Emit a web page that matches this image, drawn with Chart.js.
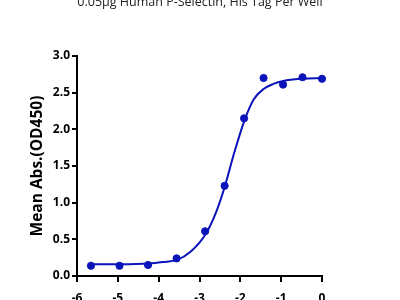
<!DOCTYPE html>
<html>
<head>
<meta charset="utf-8">
<script src="https://cdn.jsdelivr.net/npm/chart.js"></script>
<style>
    body { margin: 0; background: #fff; }
    #wrap { position: relative; width: 400px; height: 300px; overflow: hidden; }
    #inner { position: absolute; left: 0; top: -10px; width: 400px; height: 320px; }
</style>
</head>
<body>
<div id="wrap"><div id="inner"><canvas id="myChart"></canvas></div></div>
<script>
// measured points: log concentration vs mean absorbance
const logConc = [-5.658, -4.959, -4.260, -3.561, -2.862, -2.385, -1.908, -1.431, -0.954, -0.477, 0];
const meanAbs = [0.14, 0.14, 0.15, 0.24, 0.61, 1.23, 2.15, 2.70, 2.61, 2.71, 2.69];

// fitted curve
const fitX = [-5.66, -4.95, -4.24, -3.9, -3.55, -3.22, -2.84, -2.6, -2.38, -2.15, -1.9, -1.67, -1.43, -1.19, -0.95, -0.48, 0];
const fitY = [0.16, 0.16, 0.17, 0.19, 0.22, 0.33, 0.58, 0.86, 1.22, 1.68, 2.12, 2.41, 2.55, 2.62, 2.66, 2.69, 2.70];

const xTicks = [-6, -5, -4, -3, -2, -1, 0];
const yTicks = [0, 0.5, 1, 1.5, 2, 2.5, 3];

const chartTitle = '0.05\u03bcg Human P-Selectin, His Tag Per Well';
const yTitle = 'Mean Abs.(OD450)';

const blue = '#0a14b9';
const fontFamily = '"Open Sans", sans-serif';

const ctx = document.getElementById('myChart');

new Chart(ctx, {
    type: 'scatter',
    data: {
        datasets: [{
            type: 'line',
            data: fitX.map(function (x, i) { return { x: x, y: fitY[i] }; }),
            borderColor: blue,
            borderWidth: 2,
            pointRadius: 0,
            cubicInterpolationMode: 'monotone',
            fill: false,
            clip: false
        }, {
            data: logConc.map(function (x, i) { return { x: x, y: meanAbs[i] }; }),
            backgroundColor: blue,
            borderColor: blue,
            pointRadius: 3.6,
            clip: false
        }]
    },
    options: {
        responsive: true,
        maintainAspectRatio: false,
        animation: false,
        layout: { padding: 0 },
        plugins: {
            legend: { display: false },
            tooltip: { enabled: false },
            title: {
                display: true,
                text: chartTitle,
                color: '#222',
                font: { family: fontFamily, size: 12.5, weight: 'normal' },
                padding: { top: 5, bottom: 46 }
            }
        },
        scales: {
            x: {
                type: 'linear',
                min: -6,
                max: 0,
                afterBuildTicks: function (axis) {
                    axis.ticks = xTicks.map(function (v) { return { value: v }; });
                },
                afterFit: function (axis) { axis.height = 34; },
                border: { color: '#000', width: 2 },
                grid: { drawOnChartArea: false, color: '#000', lineWidth: 2, tickLength: 6 },
                ticks: {
                    color: '#000',
                    padding: 9,
                    font: { family: fontFamily, size: 12, weight: 'bold' },
                    callback: function (v) { return String(v); }
                }
            },
            y: {
                type: 'linear',
                min: 0,
                max: 3,
                afterBuildTicks: function (axis) {
                    axis.ticks = yTicks.map(function (v) { return { value: v }; });
                },
                afterFit: function (axis) { axis.width = 77; },
                border: { color: '#000', width: 2 },
                grid: { drawOnChartArea: false, color: '#000', lineWidth: 2, tickLength: 5 },
                ticks: {
                    color: '#000',
                    padding: 2,
                    font: { family: fontFamily, size: 12, weight: 'bold' },
                    callback: function (v) { return v.toFixed(1); }
                },
                title: {
                    display: true,
                    text: yTitle,
                    color: '#000',
                    font: { family: fontFamily, size: 15.5, weight: 'bold' },
                    padding: { top: 28, bottom: 0 }
                }
            },
            // empty right-hand axis, only keeps the plot area clear of the right edge
            yRight: {
                type: 'linear',
                position: 'right',
                min: 0,
                max: 3,
                afterFit: function (axis) { axis.width = 78; },
                border: { display: false },
                grid: { display: false },
                ticks: { display: false }
            }
        }
    }
});
</script>
</body>
</html>
